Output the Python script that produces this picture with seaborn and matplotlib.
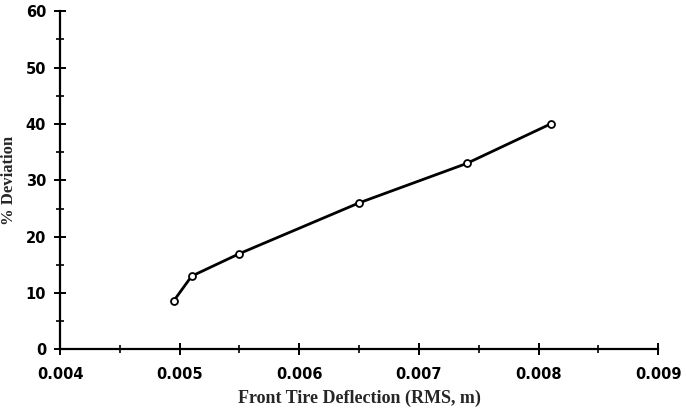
import matplotlib
matplotlib.use("Agg")
import matplotlib.pyplot as plt
from matplotlib.ticker import MultipleLocator, FormatStrFormatter
import seaborn as sns
import pandas as pd

# Front tire deflection (RMS, m) vs. percent deviation
deflection = [0.00495, 0.0051, 0.0055, 0.0065, 0.0074, 0.0081]
deviation = [8.6, 13.0, 17.0, 26.0, 33.0, 40.0]

x_ticks = [0.004, 0.005, 0.006, 0.007, 0.008, 0.009]
y_ticks = [0, 10, 20, 30, 40, 50, 60]

df = pd.DataFrame({"deflection": deflection, "deviation": deviation})

sns.set_style("white")
fig = plt.figure(figsize=(6.86, 4.15), dpi=100)
ax = fig.add_axes([0.0875, 0.158, 0.872, 0.815])

sns.lineplot(data=df, x="deflection", y="deviation", ax=ax,
             color="black", linewidth=2.0, marker="o", markersize=5,
             markerfacecolor="white", markeredgecolor="black",
             markeredgewidth=1.3)

ax.set_xlim(x_ticks[0], x_ticks[-1])
ax.set_ylim(y_ticks[0], y_ticks[-1])
ax.set_xticks(x_ticks)
ax.set_yticks(y_ticks)
ax.xaxis.set_minor_locator(MultipleLocator(0.0005))
ax.yaxis.set_minor_locator(MultipleLocator(5))
ax.xaxis.set_major_formatter(FormatStrFormatter("%.3f"))

for side in ("top", "right"):
    ax.spines[side].set_visible(False)
for side in ("left", "bottom"):
    ax.spines[side].set_linewidth(1.6)
    ax.spines[side].set_color("black")

ax.tick_params(which="both", bottom=True, left=True, top=False, right=False)
ax.tick_params(axis="x", which="major", direction="inout", length=8,
               width=1.4, colors="black", labelsize=10.5, pad=9)
ax.tick_params(axis="y", which="major", direction="inout", length=8,
               width=1.4, colors="black", labelsize=10.5, pad=6)
ax.tick_params(which="minor", direction="inout", length=6, width=1.2,
               colors="black")
for lbl in ax.get_xticklabels() + ax.get_yticklabels():
    lbl.set_fontweight("bold")
    lbl.set_family("DejaVu Sans")

ax.set_xlabel("Front Tire Deflection (RMS, m)", fontsize=13,
              fontweight="bold", family="Liberation Serif", labelpad=5)
ax.set_ylabel("% Deviation", fontsize=12, fontweight="bold",
              family="Liberation Serif", labelpad=6)

fig.savefig("out.png", dpi=100)
